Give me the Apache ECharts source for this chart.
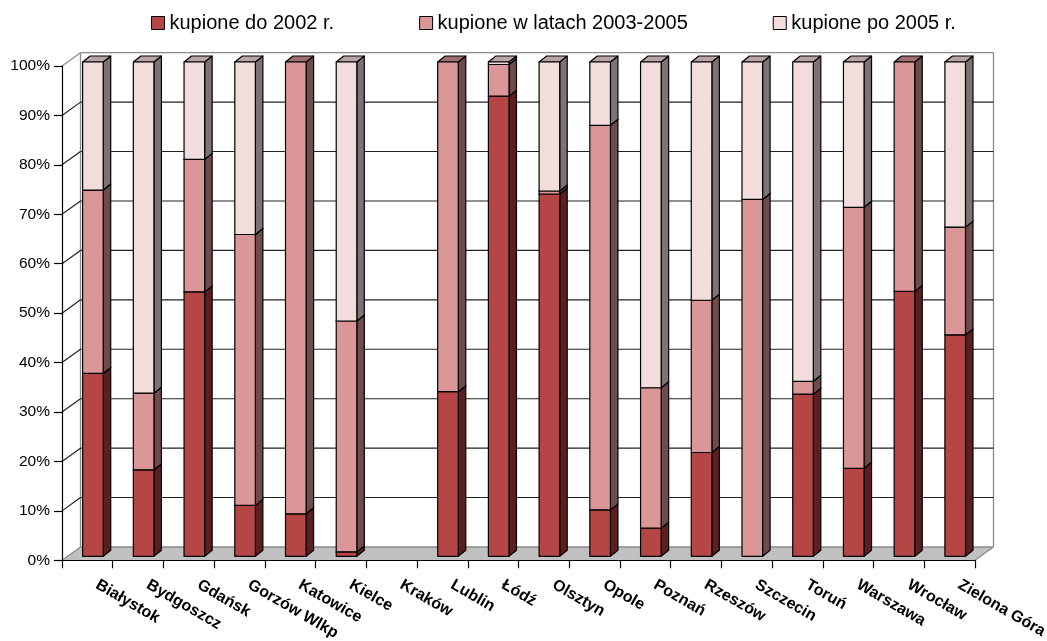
<!DOCTYPE html>
<html>
<head>
<meta charset="utf-8">
<script src="https://cdn.jsdelivr.net/npm/echarts@6/dist/echarts.min.js"></script>
<style>
html,body{margin:0;padding:0;background:#fff;}
#chart{width:1047px;height:641px;}
</style>
</head>
<body>
<div id="chart"></div>
<script>
// ---- data ----
const cities = ['Białystok','Bydgoszcz','Gdańsk','Gorzów Wlkp','Katowice','Kielce','Kraków','Lublin','Łódź','Olsztyn','Opole','Poznań','Rzeszów','Szczecin','Toruń','Warszawa','Wrocław','Zielona Góra'];
const seriesNames = ['kupione do 2002 r.','kupione w latach 2003-2005','kupione po 2005 r.'];
const before2002 = [37.0, 17.5, 53.5, 10.3, 8.6, 0.9, 0, 33.3, 93.1, 73.3, 9.4, 5.7, 21.0, 0, 32.8, 17.8, 53.6, 44.8];
const y2003to2005 = [37.1, 15.5, 26.8, 54.8, 91.4, 46.7, 0, 66.7, 6.4, 0.6, 77.8, 28.4, 30.8, 72.2, 2.6, 52.8, 46.4, 21.8];
const after2005 = [25.9, 67.0, 19.7, 34.9, 0, 52.4, 0, 0, 0.5, 26.1, 12.8, 65.9, 48.2, 27.8, 64.6, 29.4, 0, 33.4];
const yTicks = [0,10,20,30,40,50,60,70,80,90,100];

// ---- style ----
const FONT = "'Liberation Sans', Arial, sans-serif";
const D = [18.5, -13.3];          // depth of the back wall
const BAR_OFF = 0.3;              // bars placed at this fraction of depth
const BAR_DEPTH = [7.5, -6];      // bar 3D depth
const BAR_W = 0.406;              // bar width as fraction of category
const faces = [
  {front:'#b64646', side:'#5b1f1f', top:'#8c3a3a'},
  {front:'#db9797', side:'#6f4b4b', top:'#9f6e6e'},
  {front:'#f2dcdc', side:'#7c7474', top:'#b8a4a4'}
];
const values = [before2002, y2003to2005, after2005];

// build stacked [cat, base, top]
const stacked = values.map(() => []);
cities.forEach((c, i) => {
  let acc = 0;
  values.forEach((arr, s) => {
    const v = arr[i];
    stacked[s].push([i, acc, acc + v]);
    acc += v;
  });
});

function barRender(s) {
  return function (params, api) {
    const cat = api.value(0), base = api.value(1), top = api.value(2);
    if (!(top - base > 0)) return null;
    const pb = api.coord([cat, base]);
    const pt = api.coord([cat, top]);
    const w = api.size([1, 0])[0];
    const bw = w * BAR_W;
    const x0 = pb[0] - bw / 2 + D[0] * BAR_OFF;
    const x1 = x0 + bw;
    const yb = pb[1] + D[1] * BAR_OFF;
    const yt = pt[1] + D[1] * BAR_OFF;
    const dx = BAR_DEPTH[0], dy = BAR_DEPTH[1];
    const f = faces[s];
    const st = {stroke:'#000', lineWidth:1.2, lineJoin:'round'};
    return {
      type:'group',
      children:[
        {type:'polygon', shape:{points:[[x1,yb],[x1+dx,yb+dy],[x1+dx,yt+dy],[x1,yt]]}, style:Object.assign({fill:f.side}, st)},
        {type:'polygon', shape:{points:[[x0,yt],[x1,yt],[x1+dx,yt+dy],[x0+dx,yt+dy]]}, style:Object.assign({fill:f.top}, st)},
        {type:'rect', shape:{x:x0, y:yt, width:bw, height:yb-yt}, style:Object.assign({fill:f.front}, st)}
      ]
    };
  };
}

function edges(api) {
  const p = api.coord([0, 0]);
  const w = api.size([1, 0])[0];
  const xL = p[0] - w / 2;
  const xR = xL + w * cities.length;
  return {xL, xR, w};
}

const floorSeries = {
  type:'custom', name:'floor', silent:true, z:1,
  data:[[0,0]],
  renderItem: function (params, api) {
    const e = edges(api);
    const y0 = api.coord([0, 0])[1];
    const y100 = api.coord([0, 100])[1];
    const gray = '#8a8a8a';
    return {
      type:'group',
      children:[
        {type:'polygon', shape:{points:[[e.xL,y0],[e.xR,y0],[e.xR+D[0],y0+D[1]],[e.xL+D[0],y0+D[1]]]}, style:{fill:'#c0c0c0', stroke:null}},
        {type:'line', shape:{x1:e.xL+D[0], y1:y0+D[1], x2:e.xL+D[0], y2:y100+D[1]}, style:{stroke:gray, lineWidth:1.3}},
        {type:'line', shape:{x1:e.xR+D[0], y1:y0+D[1], x2:e.xR+D[0], y2:y100+D[1]}, style:{stroke:gray, lineWidth:1.3}},
        {type:'line', shape:{x1:e.xR, y1:y0, x2:e.xR+D[0], y2:y0+D[1]}, style:{stroke:gray, lineWidth:1.3}}
      ]
    };
  }
};

const gridSeries = {
  type:'custom', name:'gridlines', silent:true, z:2,
  data: yTicks.map(v => [0, v]),
  renderItem: function (params, api) {
    const v = api.value(1);
    const e = edges(api);
    const y = api.coord([0, v])[1];
    const edge = (v === 0 || v === 100);
    const col = edge ? '#8a8a8a' : '#222';
    return {
      type:'group',
      children:[
        {type:'line', shape:{x1:e.xL, y1:y, x2:e.xL+D[0], y2:y+D[1]}, style:{stroke:col, lineWidth:1.2}},
        {type:'line', shape:{x1:e.xL+D[0], y1:y+D[1], x2:e.xR+D[0], y2:y+D[1]}, style:{stroke:col, lineWidth:edge?1.3:1.1}}
      ]
    };
  }
};

const barSeries = seriesNames.map((name, s) => ({
  type:'custom', name: name, z:3,
  itemStyle:{color:faces[s].front, borderColor:'#000', borderWidth:1},
  encode:{x:0, y:[1,2]},
  data: stacked[s],
  renderItem: barRender(s)
}));

const chart = echarts.init(document.getElementById('chart'), null, {renderer:'canvas'});
chart.setOption({
  animation:false,
  backgroundColor:'#fff',
  textStyle:{fontFamily:FONT},
  legend:{
    data: seriesNames,
    left:151, top:12, padding:0,
    icon:'rect', itemWidth:13, itemHeight:13, itemGap:85,
    itemStyle:{borderColor:'#000', borderWidth:1},
    textStyle:{fontFamily:FONT, fontSize:20, color:'#000', lineHeight:22},
    selectedMode:false
  },
  grid:{left:62, right:72, top:66, bottom:80.7, outerBoundsMode:'none', containLabel:false},
  xAxis:{
    type:'category', data:cities, boundaryGap:true, z:10,
    axisLine:{show:true, lineStyle:{color:'#000', width:1.2}},
    axisTick:{show:true, interval:0, length:8, lineStyle:{color:'#000', width:1.2}},
    axisLabel:{interval:0, rotate:-30, margin:18, padding:[0,0,0,11], fontFamily:FONT, fontWeight:'bold', fontSize:16, color:'#000'},
    splitLine:{show:false}
  },
  yAxis:{
    type:'value', min:0, max:100, interval:10, z:10,
    axisLine:{show:true, lineStyle:{color:'#000', width:1.2}},
    axisTick:{show:true, length:8, lineStyle:{color:'#000', width:1.2}},
    axisLabel:{formatter:'{value}%', margin:12, fontFamily:FONT, fontSize:15.5, color:'#000'},
    splitLine:{show:false}
  },
  series:[floorSeries, gridSeries].concat(barSeries)
});
</script>
</body>
</html>
